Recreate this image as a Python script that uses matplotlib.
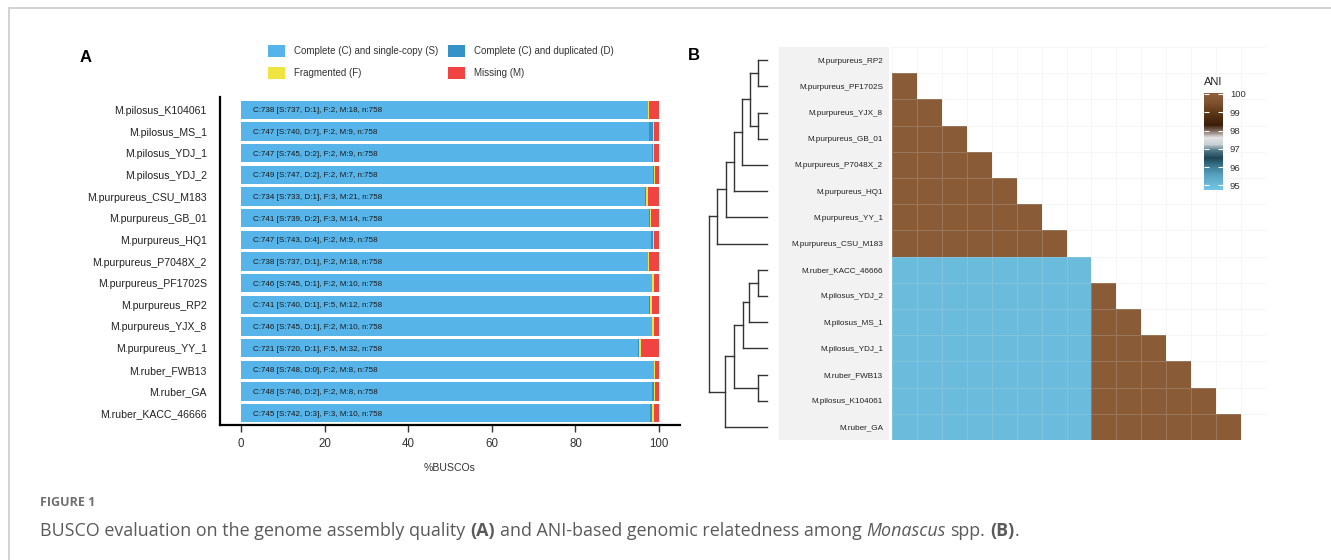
import numpy as np
import matplotlib
matplotlib.use('Agg')
import matplotlib.pyplot as plt
from matplotlib.colors import LinearSegmentedColormap, Normalize
from matplotlib.patches import Patch
from matplotlib.lines import Line2D

plt.rcParams['font.family'] = ['Liberation Sans', 'DejaVu Sans']

# ---- panel A data (BUSCO) ----
strains = ['M.pilosus_K104061', 'M.pilosus_MS_1', 'M.pilosus_YDJ_1', 'M.pilosus_YDJ_2',
           'M.purpureus_CSU_M183', 'M.purpureus_GB_01', 'M.purpureus_HQ1',
           'M.purpureus_P7048X_2', 'M.purpureus_PF1702S', 'M.purpureus_RP2',
           'M.purpureus_YJX_8', 'M.purpureus_YY_1', 'M.ruber_FWB13', 'M.ruber_GA',
           'M.ruber_KACC_46666']
single = [737, 740, 745, 747, 733, 739, 743, 737, 745, 740, 745, 720, 748, 746, 742]
dup = [1, 7, 2, 2, 1, 2, 4, 1, 1, 1, 1, 1, 0, 2, 3]
frag = [2, 2, 2, 2, 3, 3, 2, 2, 2, 5, 2, 5, 2, 2, 3]
missing = [18, 9, 9, 7, 21, 14, 9, 18, 10, 12, 10, 32, 8, 8, 10]
n_total = 758
busco_labels = ['Complete (C) and single-copy (S)', 'Complete (C) and duplicated (D)',
                'Fragmented (F)', 'Missing (M)']
busco_colors = ['#56B4E9', '#3492C7', '#F0E442', '#F04442']

# ---- panel B data (ANI) ----
taxa = ['M.purpureus_RP2', 'M.purpureus_PF1702S', 'M.purpureus_YJX_8', 'M.purpureus_GB_01',
        'M.purpureus_P7048X_2', 'M.purpureus_HQ1', 'M.purpureus_YY_1', 'M.purpureus_CSU_M183',
        'M.ruber_KACC_46666', 'M.pilosus_YDJ_2', 'M.pilosus_MS_1', 'M.pilosus_YDJ_1',
        'M.ruber_FWB13', 'M.pilosus_K104061', 'M.ruber_GA']
# lower triangle of ANI matrix (row i, columns 0..i-1)
ani_lower = [
    [],
    [99.9],
    [99.9, 99.9],
    [99.9, 99.9, 99.9],
    [99.9, 99.9, 99.9, 99.9],
    [99.9, 99.9, 99.9, 99.9, 99.9],
    [99.9, 99.9, 99.9, 99.9, 99.9, 99.9],
    [99.9, 99.9, 99.9, 99.9, 99.9, 99.9, 99.9],
    [95.0, 95.0, 95.0, 95.0, 95.0, 95.0, 95.0, 95.0],
    [95.0, 95.0, 95.0, 95.0, 95.0, 95.0, 95.0, 95.0, 99.9],
    [95.0, 95.0, 95.0, 95.0, 95.0, 95.0, 95.0, 95.0, 99.9, 99.9],
    [95.0, 95.0, 95.0, 95.0, 95.0, 95.0, 95.0, 95.0, 99.9, 99.9, 99.9],
    [95.0, 95.0, 95.0, 95.0, 95.0, 95.0, 95.0, 95.0, 99.9, 99.9, 99.9, 99.9],
    [95.0, 95.0, 95.0, 95.0, 95.0, 95.0, 95.0, 95.0, 99.9, 99.9, 99.9, 99.9, 99.9],
    [95.0, 95.0, 95.0, 95.0, 95.0, 95.0, 95.0, 95.0, 99.9, 99.9, 99.9, 99.9, 99.9, 99.9],
]
# dendrogram merges: (node a, node b, height); new nodes numbered from 15
dendro_merges = [(0, 1, 0.155), (2, 3, 0.155), (15, 16, 0.29), (17, 4, 0.43),
                 (18, 5, 0.57), (19, 6, 0.71), (20, 7, 0.86),
                 (8, 9, 0.155), (22, 10, 0.31), (23, 11, 0.41), (12, 13, 0.155),
                 (24, 25, 0.57), (26, 14, 0.72), (21, 27, 1.0)]
cbar_ticks = [95, 96, 97, 98, 99, 100]

W, H = 1331, 560
fig = plt.figure(figsize=(W / 100, H / 100), dpi=100)


def px_axes(x0, y0, x1, y1, **kw):
    return fig.add_axes([x0 / W, 1 - y1 / H, (x1 - x0) / W, (y1 - y0) / H], **kw)


# page frame
fig.add_artist(Line2D([9 / W, 9 / W], [0, 1 - 8 / H], transform=fig.transFigure, color='#d0d0d0', lw=1.3))
fig.add_artist(Line2D([9 / W, 1], [1 - 8 / H, 1 - 8 / H], transform=fig.transFigure, color='#d0d0d0', lw=1.3))

# ---------------- panel A ----------------
axA = px_axes(220, 97, 680, 425)
y = np.arange(len(strains))
left = np.zeros(len(strains))
for vals, col in zip([single, dup, frag, missing], busco_colors):
    pct = np.array(vals) / n_total * 100
    axA.barh(y, pct, left=left, height=0.85, color=col, linewidth=0)
    left += pct
for i in range(len(strains)):
    txt = f'C:{single[i] + dup[i]} [S:{single[i]}, D:{dup[i]}], F:{frag[i]}, M:{missing[i]}, n:{n_total}'
    axA.text(3, i, txt, va='center_baseline', ha='left', fontsize=5.8, color='#1a1a1a')
axA.set_xlim(-5, 105)
axA.set_ylim(14.55, -0.6)
axA.set_yticks(y)
axA.set_yticklabels(strains)
axA.set_xticks([0, 20, 40, 60, 80, 100])
axA.tick_params(axis='y', length=0, pad=9.5, labelsize=7.6, labelcolor='#222222')
axA.tick_params(axis='x', length=5, width=1, color='#333333', pad=4.5, labelsize=8.3, labelcolor='#333333')
for s in ['top', 'right']:
    axA.spines[s].set_visible(False)
for s in ['left', 'bottom']:
    axA.spines[s].set_linewidth(1.6)
    axA.spines[s].set_color('black')
axA.set_xlabel('%BUSCOs', fontsize=7.6, color='#333333', labelpad=9)

handles = [Patch(facecolor=c, edgecolor='none') for c in busco_colors]
order = [0, 2, 1, 3]
fig.legend([handles[i] for i in order], [busco_labels[i] for i in order], ncol=2,
           loc='upper left', bbox_to_anchor=(268 / W, 1 - 45 / H), frameon=False,
           fontsize=7, handlelength=1.75, handleheight=1.6, handletextpad=0.9,
           columnspacing=1.0, labelspacing=0.95, borderpad=0, borderaxespad=0,
           labelcolor='#333333')

fig.text(80 / W, 1 - 58 / H, 'A', fontsize=12, fontweight='bold', va='center', ha='left')
fig.text(688 / W, 1 - 55 / H, 'B', fontsize=12, fontweight='bold', va='center', ha='left')

# ---------------- panel B ----------------
ani_cmap = LinearSegmentedColormap.from_list('ani', [
    (0.00, '#73c5e5'), (0.05, '#6bbbdb'), (0.15, '#58a2c0'), (0.24, '#3c7c95'),
    (0.33, '#1d4555'), (0.41, '#557a8a'), (0.47, '#c8d0d4'), (0.54, '#e4e4e4'),
    (0.60, '#8a7a70'), (0.67, '#3a1c08'), (0.80, '#5e3818'), (0.90, '#7f5230'),
    (1.00, '#8d5f3a')])
norm = Normalize(94.75, 100.05)

nt = len(taxa)
mat = np.full((nt, nt), np.nan)
for i, row in enumerate(ani_lower):
    mat[i, :len(row)] = row
ani_cmap.set_bad('white')

gray_box = px_axes(779, 47, 889, 440)
gray_box.set_facecolor('#f2f2f2')
gray_box.set_xticks([])
gray_box.set_yticks([])
for s in gray_box.spines.values():
    s.set_visible(False)

axH = px_axes(892, 47, 1266, 440)
mesh = axH.pcolormesh(np.ma.masked_invalid(mat), cmap=ani_cmap, norm=norm,
                      edgecolors=(0.85, 0.85, 0.85, 0.22), linewidth=0.6)
axH.set_xlim(0, nt)
axH.set_ylim(nt, 0)
axH.set_yticks(np.arange(nt) + 0.5)
axH.set_yticklabels(taxa)
axH.set_xticks([])
axH.tick_params(axis='y', length=0, pad=6.5, labelsize=5.9, labelcolor='#222222')
for s in axH.spines.values():
    s.set_visible(False)

# dendrogram
axD = px_axes(700, 47, 779, 440)
axD.set_xlim(1.155, -0.207)
axD.set_ylim(nt - 0.5, -0.5)
axD.axis('off')
pos = {i: (float(i), 0.0) for i in range(nt)}
for k, (a, b, h) in enumerate(dendro_merges):
    ya, ha = pos[a]
    yb, hb = pos[b]
    axD.plot([ha, h], [ya, ya], color='#333333', lw=1)
    axD.plot([hb, h], [yb, yb], color='#333333', lw=1)
    axD.plot([h, h], [ya, yb], color='#333333', lw=1)
    pos[nt + k] = ((ya + yb) / 2, h)

# colorbar
cax = px_axes(1204, 93, 1223, 190)
cb = fig.colorbar(mesh, cax=cax, ticks=cbar_ticks)
cb.outline.set_visible(False)
cax.tick_params(left=True, right=True, direction='in', color='white', length=3.5,
                width=0.8, labelsize=6.8, labelcolor='#333333', pad=5)
fig.text(1204 / W, 1 - 82 / H, 'ANI', fontsize=8, color='#222222', va='center', ha='left')

# ---------------- caption ----------------
fig.text(40 / W, 1 - 503 / H, 'FIGURE 1', fontsize=9, fontweight='bold', color='#707070',
         family='Open Sans', va='center', ha='left')
axC = fig.add_axes([0, 0, 1, 1])
axC.axis('off')
pieces = [('BUSCO evaluation on the genome assembly quality', 'normal', 'normal', 0),
          ('(A)', 'bold', 'normal', 3.5),
          ('and ANI-based genomic relatedness among', 'normal', 'normal', 3.5),
          ('Monascus', 'normal', 'italic', 3.5),
          ('spp.', 'normal', 'normal', 3.5),
          ('(B)', 'bold', 'normal', 3.5),
          ('.', 'normal', 'normal', 0)]
prev = None
for text, weight, style, gap in pieces:
    kw = dict(fontsize=12.9, color='#5a5a5a', family='Open Sans', fontweight=weight,
              fontstyle=style, ha='left', va='bottom')
    if prev is None:
        prev = axC.text(40 / W, 1 - 540 / H, text, transform=fig.transFigure, **kw)
    else:
        prev = axC.annotate(text, xy=(1, 0), xycoords=prev, xytext=(gap, 0),
                            textcoords='offset points', **kw)

fig.savefig('out.png', dpi=100)
